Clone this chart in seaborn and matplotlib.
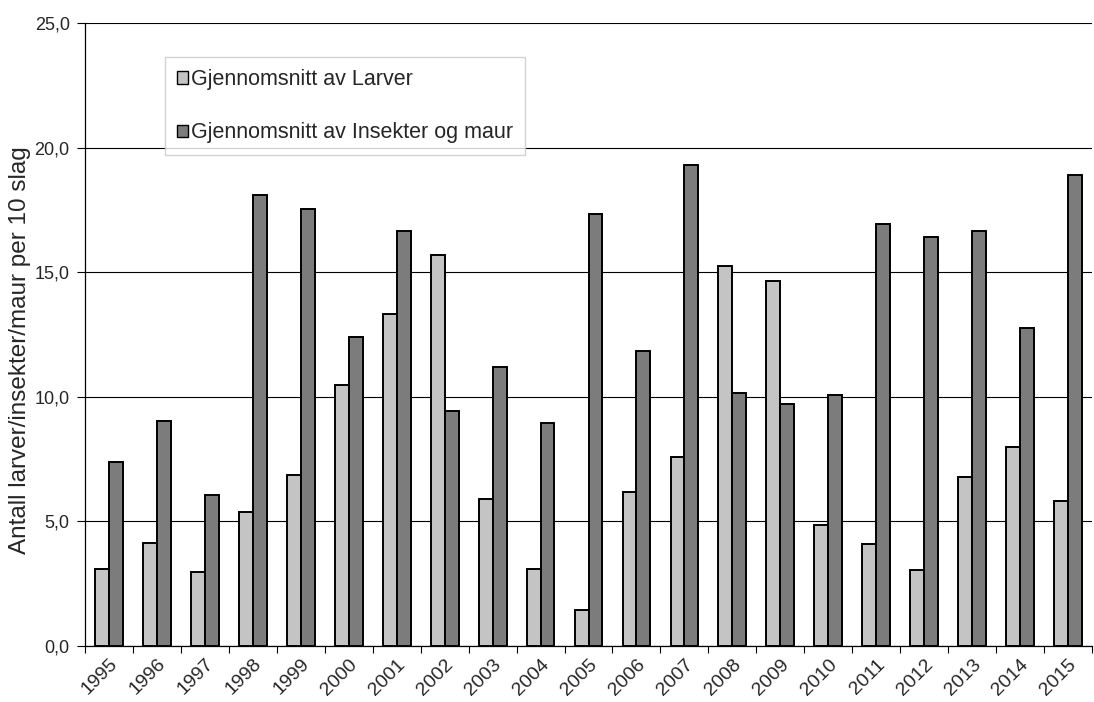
import matplotlib
matplotlib.use("Agg")
import matplotlib.pyplot as plt
import seaborn as sns
import pandas as pd
import numpy as np
from matplotlib.ticker import FixedLocator, FuncFormatter

years = [str(y) for y in range(1995, 2016)]
larver = [3.10, 4.15, 2.96, 5.38, 6.87, 10.46, 13.32, 15.67, 5.89, 3.07, 1.45,
          6.17, 7.57, 15.24, 14.63, 4.85, 4.11, 3.05, 6.77, 7.99, 5.80]
insekter = [7.39, 9.01, 6.07, 18.09, 17.53, 12.38, 16.64, 9.42, 11.18, 8.94, 17.32,
            11.84, 19.29, 10.16, 9.69, 10.07, 16.92, 16.42, 16.64, 12.76, 18.88]
series_names = ["Gjennomsnitt av Larver", "Gjennomsnitt av Insekter og maur"]
y_label = "Antall larver/insekter/maur per 10 slag"

df = pd.DataFrame({
    "år": years * 2,
    "verdi": larver + insekter,
    "serie": [series_names[0]] * len(years) + [series_names[1]] * len(years),
})

sns.set_theme(style="white")
plt.rcParams["font.family"] = ["Liberation Sans", "DejaVu Sans"]

fig = plt.figure(figsize=(10.94, 7.02), dpi=100)
ax = fig.add_axes([0.0777, 0.0798, 0.9205, 0.8875])

sns.barplot(data=df, x="år", y="verdi", hue="serie", order=years,
            hue_order=series_names, palette=["#c4c4c4", "#7c7c7c"],
            width=0.58, gap=0, edgecolor="black", linewidth=1.4,
            saturation=1, errorbar=None, ax=ax, zorder=3)

ax.set_xlim(-0.5, len(years) - 0.5)
ax.set_ylim(0, 25)
ax.set_yticks(np.arange(0, 25.1, 5))
ax.yaxis.set_major_formatter(FuncFormatter(lambda v, p: f"{v:.1f}".replace(".", ",")))
ax.grid(axis="y", color="black", linewidth=0.8, zorder=0)
ax.set_axisbelow(True)

# category boundaries carry the tick marks, labels sit at the centers
ax.xaxis.set_minor_locator(FixedLocator(np.arange(-0.5, len(years), 1)))
ax.tick_params(axis="x", which="major", length=0, pad=7, labelsize=14)
ax.tick_params(axis="x", which="minor", length=5, width=0.8, color="black", direction="out", bottom=True)
ax.tick_params(axis="y", which="major", length=6, width=0.8, color="black", direction="out", left=True, labelsize=13, pad=5)
plt.setp(ax.get_xticklabels(), rotation=45, ha="right", rotation_mode="anchor")

for s in ["top", "right"]:
    ax.spines[s].set_visible(False)
for s in ["left", "bottom"]:
    ax.spines[s].set_color("black")
    ax.spines[s].set_linewidth(0.9)

ax.set_xlabel("")
ax.set_ylabel(y_label, fontsize=17.5)
ax.yaxis.set_label_coords(-0.054, 0.475)

leg = ax.legend(loc="upper left", bbox_to_anchor=(0.0794, 0.945), borderaxespad=0,
                fontsize=15.5, frameon=True, fancybox=False, edgecolor="#c8c8c8",
                labelspacing=1.5, handlelength=0.5, handleheight=0.5,
                handletextpad=0.15, borderpad=0.55, title=None)
leg.get_frame().set_linewidth(1.0)
for h in leg.legend_handles:
    h.set_linewidth(1.0)

fig.savefig("out.png", dpi=100)
